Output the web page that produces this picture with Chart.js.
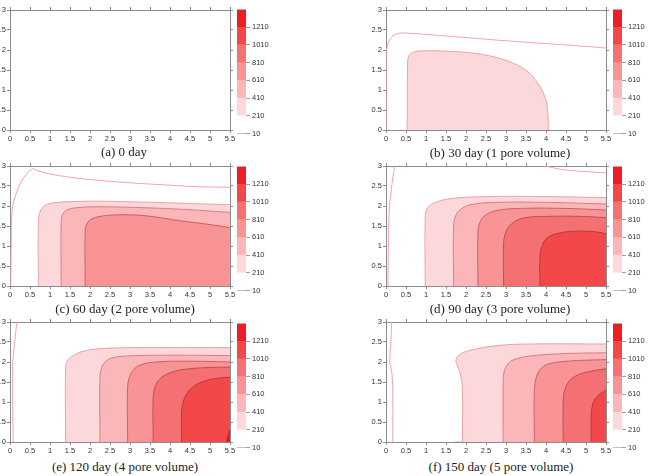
<!DOCTYPE html>
<html>
<head>
<meta charset="utf-8">
<script src="https://cdn.jsdelivr.net/npm/chart.js@4"></script>
<style>
body { margin: 0; width: 651px; height: 476px; overflow: hidden; background: #fff; position: relative; }
canvas { position: absolute; }
.cap { position: absolute; font-family: "Liberation Serif", "Times New Roman", serif; font-size: 13px; color: #222; white-space: nowrap; transform: translate(-50%, -50%); }
</style>
</head>
<body>
<canvas id="pa" width="249" height="142" style="left:-12px;top:4px"></canvas>
<canvas id="pb" width="249" height="142" style="left:364px;top:4px"></canvas>
<canvas id="pc" width="249" height="142" style="left:-12px;top:160px"></canvas>
<canvas id="pd" width="249" height="142" style="left:364px;top:160px"></canvas>
<canvas id="pe" width="249" height="142" style="left:-12px;top:316px"></canvas>
<canvas id="pf" width="249" height="142" style="left:364px;top:316px"></canvas>

<canvas id="ka" width="39" height="137" style="left:237px;top:3px"></canvas>
<canvas id="kb" width="39" height="137" style="left:613px;top:3px"></canvas>
<canvas id="kc" width="39" height="137" style="left:237px;top:160px"></canvas>
<canvas id="kd" width="39" height="137" style="left:613px;top:160px"></canvas>
<canvas id="ke" width="39" height="137" style="left:237px;top:317px"></canvas>
<canvas id="kf" width="39" height="137" style="left:613px;top:317px"></canvas>

<div class="cap" style="left:124px;top:152px">(a) 0 day</div>
<div class="cap" style="left:500px;top:153px">(b) 30 day (1 pore volume)</div>
<div class="cap" style="left:125px;top:309px">(c) 60 day (2 pore volume)</div>
<div class="cap" style="left:500px;top:309px">(d) 90 day (3 pore volume)</div>
<div class="cap" style="left:125px;top:467px">(e) 120 day (4 pore volume)</div>
<div class="cap" style="left:501px;top:467px">(f) 150 day (5 pore volume)</div>

<script>
// contour levels (colour bar)
const levels = [10, 210, 410, 610, 810, 1010, 1210];
const levelTop = 1410;

// contour lines, [x, y] pairs
// (b) 30 day
const b10 = [[0,0],[0,1.9],[0.03,2.08],[0.1,2.27],[0.2,2.37],[0.35,2.42],[0.55,2.42],[1,2.39],[2,2.31],[3,2.23],[4,2.16],[5,2.09],[5.5,2.05]];
const b210 = [[0.53,0],[0.54,1.6],[0.57,1.85],[0.7,1.95],[1,1.98],[1.5,1.97],[2,1.94],[2.5,1.87],[3,1.74],[3.5,1.49],[3.8,1.16],[4,0.74],[4.05,0.32],[4.06,0]];
// (c) 60 day
const c10 = [[0.02,0],[0.03,1.0],[0.05,1.85],[0.12,2.2],[0.25,2.55],[0.4,2.78],[0.56,2.93],[0.7,2.88],[1,2.8],[1.5,2.72],[2,2.66],[3,2.58],[4,2.52],[4.75,2.48],[5.5,2.47]];
const c210 = [[0.71,0],[0.71,1.6],[0.75,1.85],[0.85,2.0],[1.1,2.08],[1.6,2.11],[2.25,2.12],[3.25,2.1],[4.25,2.07],[5.5,2.03]];
const c410 = [[1.28,0],[1.28,1.6],[1.32,1.8],[1.45,1.91],[1.7,1.96],[2.25,1.98],[3.25,1.96],[4.25,1.92],[5.5,1.84]];
const c610 = [[1.88,0],[1.88,1.35],[1.92,1.55],[2.05,1.68],[2.4,1.76],[3,1.78],[3.6,1.73],[4.25,1.63],[4.9,1.55],[5.5,1.46]];
// (d) 90 day
const d10a = [[0.05,0],[0.06,1.0],[0.08,1.9],[0.12,2.3],[0.17,2.7],[0.22,3.0]];
const d10b = [[3.99,3.0],[4.2,2.95],[4.5,2.9],[5,2.86],[5.5,2.83]];
const d210 = [[0.98,0],[0.98,1.7],[1.02,1.92],[1.19,2.07],[1.6,2.18],[2.36,2.23],[3.6,2.24],[5.5,2.21]];
const d410 = [[1.69,0],[1.69,1.5],[1.74,1.75],[1.85,1.9],[2.1,2.03],[2.78,2.09],[4.03,2.09],[5.5,2.05]];
const d610 = [[2.3,0],[2.3,1.35],[2.36,1.62],[2.5,1.78],[2.78,1.89],[3.36,1.94],[4.45,1.94],[5.5,1.9]];
const d810 = [[2.94,0],[2.94,1.05],[3.0,1.35],[3.15,1.56],[3.44,1.7],[4.03,1.74],[4.87,1.74],[5.5,1.71]];
const d1010 = [[3.85,0],[3.85,0.75],[3.92,1.05],[4.05,1.22],[4.36,1.33],[4.78,1.37],[5.2,1.36],[5.5,1.31]];
// (e) 120 day
const e10 = [[0.08,0],[0.07,0.7],[0.06,1.6],[0.07,2.0],[0.12,2.52],[0.17,3.0]];
const e210 = [[1.39,0],[1.39,1.85],[1.43,2.02],[1.55,2.14],[1.8,2.26],[2.25,2.33],[3.08,2.36],[5.5,2.36]];
const e410 = [[2.25,0],[2.25,1.6],[2.29,1.85],[2.38,2.0],[2.55,2.1],[2.92,2.15],[3.92,2.17],[5.5,2.16]];
const e610 = [[2.94,0],[2.94,1.35],[2.99,1.63],[3.1,1.82],[3.3,1.94],[3.67,2.0],[4.42,2.02],[5.5,2.0]];
const e810 = [[3.58,0],[3.58,1.1],[3.63,1.38],[3.75,1.58],[3.95,1.71],[4.33,1.81],[4.92,1.86],[5.5,1.87]];
const e1010 = [[4.29,0],[4.29,0.7],[4.33,1.0],[4.45,1.25],[4.65,1.43],[4.95,1.55],[5.25,1.6],[5.5,1.62]];
const e1210 = [[5.42,0],[5.45,0.15],[5.5,0.3]];
// (f) 150 day -- the 210 line bulges left, so it starts further left along the floor
const f10 = [[0.17,0],[0.17,1.1],[0.15,1.7],[0.1,1.95],[0.1,2.2],[0.13,2.68],[0.14,3.0]];
const f210 = [[1.72,0],[1.91,0],[1.91,0.02],[1.91,1.3],[1.87,1.65],[1.78,1.92],[1.75,2.05],[1.86,2.2],[2.19,2.31],[2.78,2.41],[3.61,2.45],[5.5,2.45]];
const f410 = [[2.93,0],[2.93,1.5],[2.96,1.78],[3.05,1.95],[3.2,2.06],[3.61,2.15],[4.45,2.21],[5.5,2.23]];
const f610 = [[3.71,0],[3.71,1.3],[3.76,1.62],[3.86,1.82],[4.03,1.94],[4.53,2.02],[5.5,2.06]];
const f810 = [[4.43,0],[4.43,1.0],[4.47,1.3],[4.58,1.52],[4.78,1.67],[5.12,1.77],[5.5,1.83]];
const f1010 = [[5.13,0],[5.13,0.6],[5.17,0.95],[5.27,1.13],[5.5,1.3]];

// which line belongs to which level index (0 = the 10 line)
const panels = [
  { id: 'pa', bar: 'ka', lines: [] },
  { id: 'pb', bar: 'kb', lines: [[b10, 0], [b210, 1]] },
  { id: 'pc', bar: 'kc', lines: [[c10, 0], [c210, 1], [c410, 2], [c610, 3]] },
  { id: 'pd', bar: 'kd', lines: [[d10a, 0], [d10b, 0], [d210, 1], [d410, 2], [d610, 3], [d810, 4], [d1010, 5]] },
  { id: 'pe', bar: 'ke', lines: [[e10, 0], [e210, 1], [e410, 2], [e610, 3], [e810, 4], [e1010, 5], [e1210, 6]] },
  { id: 'pf', bar: 'kf', lines: [[f10, 0], [f210, 1], [f410, 2], [f610, 3], [f810, 4], [f1010, 5]] }
];

const fills = ['#ffffff', '#fcd8db', '#fab6b9', '#f89396', '#f57072', '#f2484a', '#ec1e24'];
const strokes = ['#f2a3aa', '#eea0a5', '#df7c81', '#cf6064', '#c44c50', '#b83a3e', '#a82a2e'];

Chart.defaults.font.family = '"Liberation Sans", Arial, sans-serif';
Chart.defaults.font.size = 7.5;
Chart.defaults.color = '#333';

const frame = '#8c8c8c';

// axes sit above the fills (z: 1) so the frame hides strokes along the floor
function axis(pos, min, max, showLabels, size) {
  return {
    type: 'linear', position: pos, min: min, max: max, z: 1,
    ticks: { display: showLabels, stepSize: 0.5, padding: 1, autoSkip: false, maxRotation: 0, callback: v => String(v) },
    grid: { drawOnChartArea: false, tickLength: 3, color: frame },
    border: { color: frame },
    afterFit: s => { if (pos === 'left' || pos === 'right') s.width = size; else s.height = size; }
  };
}

panels.forEach(p => {
  new Chart(document.getElementById(p.id), {
    type: 'scatter',
    data: {
      datasets: p.lines.map(([pts, lvl]) => ({
        data: pts.map(([x, y]) => ({ x, y })),
        showLine: true,
        tension: 0.4,
        pointRadius: 0,
        borderWidth: 1,
        borderColor: strokes[lvl],
        backgroundColor: fills[lvl],
        fill: lvl === 0 ? false : 'origin',
        order: lvl === 0 ? 0 : 10 - lvl
      }))
    },
    options: {
      responsive: false,
      animation: false,
      events: [],
      plugins: { legend: { display: false }, tooltip: { enabled: false } },
      scales: {
        x: axis('bottom', 0, 5.5, true, 16),
        y: axis('left', 0, 3, true, 22),
        x2: axis('top', 0, 5.5, false, 6),
        y2: axis('right', 0, 3, false, 7)
      }
    }
  });

  // colour bar
  new Chart(document.getElementById(p.bar), {
    type: 'bar',
    data: {
      labels: [''],
      datasets: levels.map((lo, i) => ({
        data: [[lo, i < levels.length - 1 ? levels[i + 1] : levelTop]],
        backgroundColor: fills[i],
        borderWidth: 0,
        grouped: false,
        barPercentage: 1,
        categoryPercentage: 1
      })).concat([{
        data: [[levels[0], levelTop]],
        backgroundColor: 'rgba(0,0,0,0)',
        borderColor: '#999',
        borderWidth: 1,
        borderSkipped: false,
        grouped: false,
        barPercentage: 1,
        categoryPercentage: 1
      }])
    },
    options: {
      responsive: false,
      animation: false,
      events: [],
      layout: { padding: { top: 4, bottom: 6 } },
      plugins: { legend: { display: false }, tooltip: { enabled: false } },
      scales: {
        x: { display: false },
        y: {
          position: 'right', min: levels[0], max: levelTop, z: 1,
          afterBuildTicks: s => { s.ticks = levels.map(v => ({ value: v })); },
          ticks: { padding: 2, font: { size: 7.5 }, callback: v => String(v) },
          grid: { color: 'rgba(110,50,50,0.5)', tickLength: 4 },
          border: { display: false },
          afterFit: s => { s.width = 30; }
        }
      }
    }
  });
});
</script>
</body>
</html>
